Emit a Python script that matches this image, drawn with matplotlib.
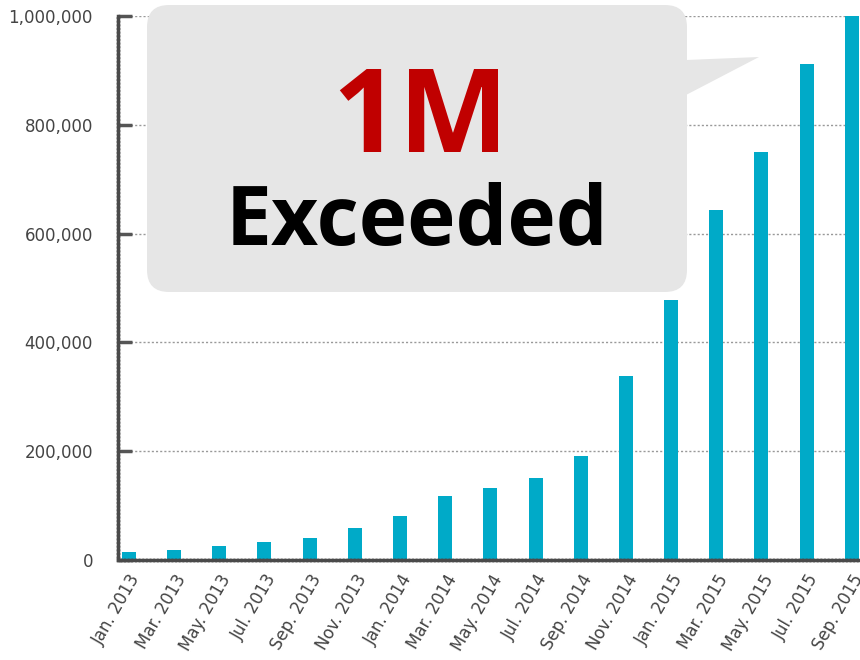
import matplotlib
matplotlib.use("Agg")
import matplotlib.pyplot as plt
from matplotlib.patches import FancyBboxPatch, Polygon
from matplotlib.ticker import FuncFormatter

# bi-monthly totals
months = ["Jan. 2013", "Mar. 2013", "May. 2013", "Jul. 2013", "Sep. 2013",
          "Nov. 2013", "Jan. 2014", "Mar. 2014", "May. 2014", "Jul. 2014",
          "Sep. 2014", "Nov. 2014", "Jan. 2015", "Mar. 2015", "May. 2015",
          "Jul. 2015", "Sep. 2015"]
totals = [15000, 18000, 26000, 33000, 41000, 59000, 81000, 118000, 133000,
          151000, 191000, 338000, 478000, 643000, 750000, 912000, 1000000]
yticks = [0, 200000, 400000, 600000, 800000, 1000000]

headline = "1M"
subline = "Exceeded"

BAR = "#00aac8"
LABEL = "#444444"

fig = plt.figure(figsize=(8.6, 6.6), dpi=100)
ax = fig.add_axes([118 / 860, 1 - 560 / 660, 742 / 860, 544 / 660])

x = list(range(len(months)))
ax.bar(x, totals, width=0.31, color=BAR, zorder=3)

ax.set_xlim(-0.24, len(months) - 1 + 0.18)
ax.set_ylim(0, 1000000)
ax.set_yticks(yticks)
ax.yaxis.set_major_formatter(FuncFormatter(lambda v, _: f"{int(v):,}"))
ax.set_xticks(x)
ax.set_xticklabels(months, rotation=60, ha="right", rotation_mode="anchor",
                   fontsize=12, color=LABEL)
ax.tick_params(axis="y", direction="in", length=10, width=2.5, color="#555555",
               labelsize=12, labelcolor=LABEL, pad=18)
ax.tick_params(axis="x", length=0, pad=8)

ax.grid(axis="y", linestyle=(0, (1.5, 1.5)), color="#999999", linewidth=1, zorder=0)
for side in ["top", "right"]:
    ax.spines[side].set_visible(False)
for side in ["left", "bottom"]:
    ax.spines[side].set_linestyle((0, (0.6, 0.45)))
    ax.spines[side].set_linewidth(2.5)
    ax.spines[side].set_color("#4a4a4a")
    ax.spines[side].set_zorder(4)

# speech-bubble overlay in pixel coordinates
ov = fig.add_axes([0, 0, 1, 1])
ov.set_xlim(0, 860)
ov.set_ylim(660, 0)
ov.axis("off")
ov.add_patch(FancyBboxPatch((147, 5), 540, 287,
                            boxstyle="round,pad=0,rounding_size=22",
                            facecolor="#e6e6e6", edgecolor="none"))
ov.add_patch(Polygon([(686, 60), (759, 57), (686, 95)], closed=True,
                     facecolor="#e6e6e6", edgecolor="none"))
ov.text(420, 152, headline, color="#c00000", fontsize=84, fontweight="bold",
        ha="center", va="baseline", family=["Open Sans", "DejaVu Sans"])
ov.text(417, 245, subline, color="black", fontsize=59, fontweight="bold",
        ha="center", va="baseline", family=["Open Sans", "DejaVu Sans"])

fig.savefig("out.png", dpi=100)
